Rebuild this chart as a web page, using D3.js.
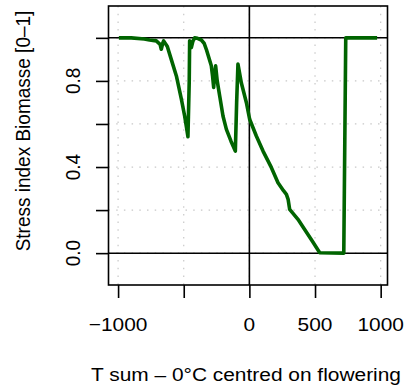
<!DOCTYPE html>
<html>
<head>
<meta charset="utf-8">
<script src="https://cdn.jsdelivr.net/npm/d3@7"></script>
<style>
  body { margin: 0; background: #fff; }
  text { font-family: "Liberation Sans", Arial, sans-serif; fill: #000; }
</style>
</head>
<body>
<div id="chart"></div>
<script>
// T sum centred on flowering (x) and stress index (y)
const tsum = [-994, -900, -800, -760, -709, -680, -671, -660, -653, -625, -595, -556, -518, -493, -478, -468,
  -458, -455, -448, -442, -430, -417, -395, -366, -345, -328, -290, -280, -272, -265, -257, -245, -226,
  -201, -175, -140, -107, -97, -87, -61, -23, 2, 53, 104, 168, 218, 260, 282, 295, 307, 370, 421, 480,
  536, 719, 734, 973];
const stress = [1.0, 1.0, 0.995, 0.99, 0.986, 0.97, 0.947, 0.975, 0.986, 0.96, 0.90, 0.823, 0.715, 0.637, 0.58, 0.541,
  0.80, 0.986, 0.96, 0.955, 0.985, 1.0, 0.998, 0.99, 0.975, 0.947, 0.87, 0.82, 0.77, 0.83, 0.87, 0.80, 0.73,
  0.637, 0.575, 0.52, 0.474, 0.70, 0.878, 0.79, 0.70, 0.622, 0.544, 0.474, 0.397, 0.327, 0.29, 0.273, 0.25, 0.203, 0.157, 0.110, 0.055,
  0.002, 0.0, 1.0, 1.0];

const xTicks = [-1000, -500, 0, 500, 1000];
const xTickLabels = ["\u22121000", "", "0", "500", "1000"];
const yTicks = [0, 0.2, 0.4, 0.6, 0.8, 1.0];
const yTickLabels = ["0.0", "", "0.4", "", "0.8", ""];
const refLinesY = [0, 1];
const refLinesX = [0];

const width = 410, height = 391;
const box = { left: 108.5, right: 387.5, top: 6, bottom: 285 };
const sx = 1.1; // text appears horizontally stretched in the reference
const fontSize = 19;

const svg = d3.select('#chart').append('svg')
    .attr('width', width)
    .attr('height', height);

const x = d3.scaleLinear().domain([-1073, 1052]).range([box.left, box.right]);
const y = d3.scaleLinear().domain([-0.148, 1.148]).range([box.bottom, box.top]);

// dotted grid
const grid = svg.append('g')
    .attr('stroke', '#c8c8c8')
    .attr('stroke-width', 1.2)
    .attr('stroke-dasharray', '1.5,6.2');
grid.selectAll('line.gx').data(xTicks).join('line')
    .attr('x1', d => x(d)).attr('x2', d => x(d))
    .attr('y1', box.top).attr('y2', box.bottom);
grid.selectAll('line.gy').data(yTicks).join('line')
    .attr('x1', box.left).attr('x2', box.right)
    .attr('y1', d => y(d)).attr('y2', d => y(d));

// reference lines
svg.selectAll('line.hline').data(refLinesY).join('line')
    .attr('x1', box.left).attr('x2', box.right)
    .attr('y1', d => y(d)).attr('y2', d => y(d))
    .attr('stroke', '#000').attr('stroke-width', 1.5);
svg.selectAll('line.vline').data(refLinesX).join('line')
    .attr('x1', d => x(d)).attr('x2', d => x(d))
    .attr('y1', box.top).attr('y2', box.bottom)
    .attr('stroke', '#000').attr('stroke-width', 1.6);

// the stress curve
const line = d3.line()
    .x((d, i) => x(tsum[i]))
    .y(d => y(d));
svg.append('path')
    .datum(stress)
    .attr('fill', 'none')
    .attr('stroke', '#006400')
    .attr('stroke-width', 3.6)
    .attr('stroke-linejoin', 'round')
    .attr('d', line);

// frame
svg.append('rect')
    .attr('x', box.left).attr('y', box.top)
    .attr('width', box.right - box.left).attr('height', box.bottom - box.top)
    .attr('fill', 'none').attr('stroke', '#000').attr('stroke-width', 1.6);

// axes
const xAxis = svg.append('g')
    .attr('transform', `translate(0,${box.bottom})`)
    .call(d3.axisBottom(x).tickValues(xTicks).tickSize(13).tickFormat(''));
const yAxis = svg.append('g')
    .attr('transform', `translate(${box.left},0)`)
    .call(d3.axisLeft(y).tickValues(yTicks).tickSize(12.5).tickFormat(''));
[xAxis, yAxis].forEach(a => {
    a.select('.domain').remove();
    a.selectAll('.tick line').attr('stroke', '#000').attr('stroke-width', 1.6);
});

// tick labels
svg.selectAll('text.xt').data(xTicks).join('text')
    .attr('transform', d => `translate(${x(d)},331) scale(${sx},1)`)
    .attr('text-anchor', 'middle')
    .style('font-size', fontSize + 'px')
    .text((d, i) => xTickLabels[i]);

svg.selectAll('text.yt').data(yTicks).join('text')
    .attr('transform', d => `translate(80,${y(d)}) scale(${sx},1) rotate(-90)`)
    .attr('text-anchor', 'middle')
    .style('font-size', fontSize + 'px')
    .text((d, i) => yTickLabels[i]);

// axis titles
svg.append('text')
    .attr('transform', `translate(246,381) scale(${sx},1)`)
    .attr('text-anchor', 'middle')
    .style('font-size', fontSize + 'px')
    .text('T sum \u2013 0\u00b0C centred on flowering');

svg.append('text')
    .attr('transform', `translate(30,131) scale(${sx},1) rotate(-90)`)
    .attr('text-anchor', 'middle')
    .style('font-size', fontSize + 'px')
    .text('Stress index Biomasse [0\u20131]');
</script>
</body>
</html>
